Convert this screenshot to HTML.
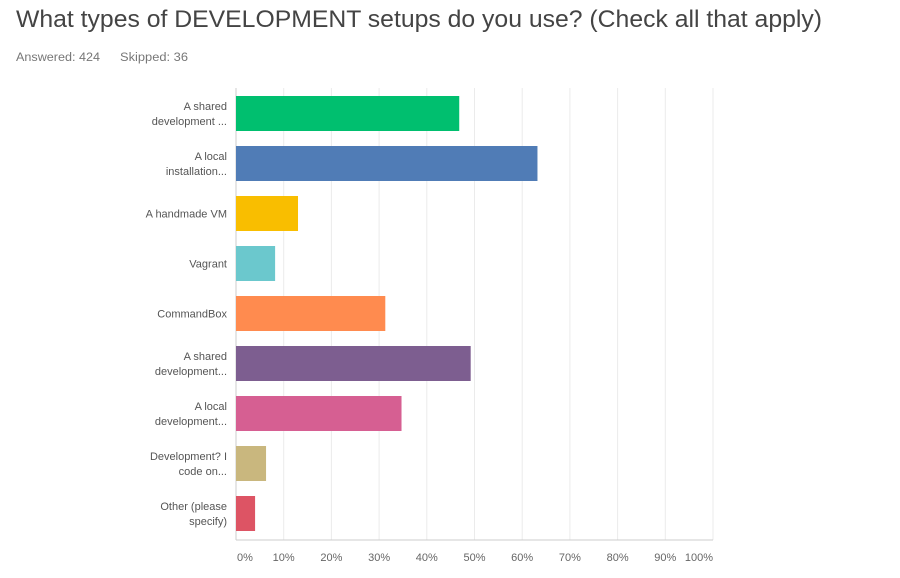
<!DOCTYPE html>
<html><head><meta charset="utf-8"><style>
body{margin:0;background:#fff;width:900px;height:573px;overflow:hidden;font-family:"Liberation Sans",sans-serif}
</style></head><body>
<svg width="900" height="573" xmlns="http://www.w3.org/2000/svg">
<text x="16" y="27" font-size="24" fill="#444" textLength="806" lengthAdjust="spacingAndGlyphs">What types of DEVELOPMENT setups do you use? (Check all that apply)</text>
<text x="16" y="61" font-size="11.5" fill="#777" textLength="84" lengthAdjust="spacingAndGlyphs">Answered: 424</text>
<text x="120" y="61" font-size="11.5" fill="#777" textLength="68" lengthAdjust="spacingAndGlyphs">Skipped: 36</text>
<g id="grid"></g><g id="bars"></g><g id="labels"></g><g id="ticks"></g>
</svg>
<script>
const categories=[["A shared","development ..."],["A local","installation..."],["A handmade VM"],["Vagrant"],["CommandBox"],["A shared","development..."],["A local","development..."],["Development? I","code on..."],["Other (please","specify)"]];
const values=[46.8,63.2,13,8.2,31.3,49.2,34.7,6.3,4];
const colors=["#00bf6f","#507cb6","#f9be00","#6bc8cd","#ff8b4f","#7d5e90","#d65f92","#c9b77e","#dd5464"];
const tickValues=[0,10,20,30,40,50,60,70,80,90,100];
const tickLabels=["0%","10%","20%","30%","40%","50%","60%","70%","80%","90%","100%"];
const X0=236,X1=713,TOP=88,BOT=540,ROW0=96,STEP=50,BH=35;
const xs=v=>X0+(X1-X0)*v/100;
const ns="http://www.w3.org/2000/svg";
function mk(t,a,p){const e=document.createElementNS(ns,t);for(const k in a)e.setAttribute(k,a[k]);document.getElementById(p).appendChild(e);return e;}
tickValues.forEach((v,i)=>{
 const g=mk('line',{x1:xs(v),x2:xs(v),y1:TOP,y2:BOT,stroke:i==0?'#ccc':'#ebebeb','stroke-width':1},'grid');
 
 
 const anchor=i==0?'start':(i==tickValues.length-1?'end':'middle');
 const t=mk('text',{x:xs(v)+(i==0?1:0),y:561,'font-size':11,fill:'#666','text-anchor':anchor},'ticks');
 t.textContent=tickLabels[i];
 
 
});
const ax=mk('line',{x1:X0,x2:X1,y1:BOT,y2:BOT,stroke:'#ccc','stroke-width':1},'grid');


values.forEach((v,i)=>{
 const y=ROW0+i*STEP;
 const r=mk('rect',{x:X0,y:y,width:xs(v)-X0,height:BH,fill:colors[i]},'bars');
 
 
 const lines=categories[i];
 const t=mk('text',{x:227,'font-size':11,fill:'#555','text-anchor':'end'},'labels');
 
 
 const cy=y+BH/2;
 lines.forEach((s,j)=>{
  const ts=document.createElementNS(ns,'tspan');
  ts.setAttribute('x',227);
  ts.setAttribute('y',cy+4+(j-(lines.length-1)/2)*15);
  ts.textContent=s;t.appendChild(ts);
 });
});
</script>
</body></html>
